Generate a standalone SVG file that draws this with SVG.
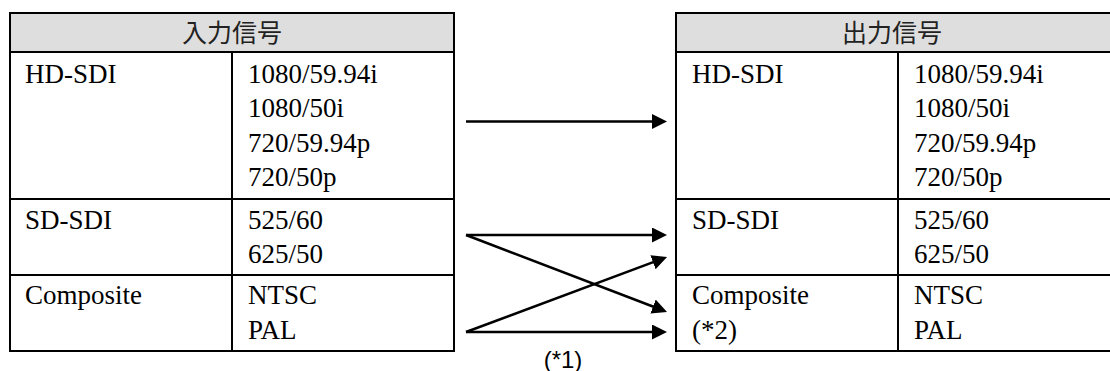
<svg xmlns="http://www.w3.org/2000/svg" width="1110" height="371" viewBox="0 0 1110 371">
<style>
.bg{fill:#ffffff}
.hdr{fill:#dedede;stroke:none}
.ln{stroke:#000;stroke-width:2;fill:none}
.t{font-family:"Liberation Serif","Times New Roman",serif;font-size:27px;fill:#000}
.h{font-family:"Noto Sans CJK JP","Noto Sans",sans-serif;font-size:25px;fill:#222;text-anchor:middle}
.n{font-family:"Liberation Sans",Arial,sans-serif;font-size:24px;fill:#000;text-anchor:middle}
.c{stroke:#000;stroke-width:2.5;fill:none;marker-end:url(#ah)}
</style>
<defs>
<marker id="ah" markerUnits="userSpaceOnUse" markerWidth="16" markerHeight="16" refX="11" refY="7.5" orient="auto">
<path d="M0,0 L15,7.5 L0,15 z" fill="#000"/>
</marker>
</defs>
<rect class="bg" x="0" y="0" width="1110" height="371"/>

<g id="input-table">
<g id="input-header">
<rect class="hdr" x="10" y="13" width="444" height="39"/>
<text class="h" x="232" y="41.5">入力信号</text>
</g>
<g id="input-hd">
<text class="t" x="25" y="82.5">HD-SDI</text>
<text class="t" x="248" y="82.5">1080/59.94i</text>
<text class="t" x="248" y="117">1080/50i</text>
<text class="t" x="248" y="151.5">720/59.94p</text>
<text class="t" x="248" y="186">720/50p</text>
</g>
<g id="input-sd">
<text class="t" x="25" y="228.5">SD-SDI</text>
<text class="t" x="248" y="228.5">525/60</text>
<text class="t" x="248" y="263">625/50</text>
</g>
<g id="input-composite">
<text class="t" x="25" y="304">Composite</text>
<text class="t" x="248" y="304">NTSC</text>
<text class="t" x="248" y="338.5">PAL</text>
</g>
<path class="ln" d="M10,13 H454 V351 H10 Z M10,52 H454 M10,199 H454 M10,275 H454 M232,52 V351"/>
</g>

<g id="output-table">
<g id="output-header">
<rect class="hdr" x="676" y="13" width="440" height="39"/>
<text class="h" x="892" y="41.5">出力信号</text>
</g>
<g id="output-hd">
<text class="t" x="692" y="82.5">HD-SDI</text>
<text class="t" x="914" y="82.5">1080/59.94i</text>
<text class="t" x="914" y="117">1080/50i</text>
<text class="t" x="914" y="151.5">720/59.94p</text>
<text class="t" x="914" y="186">720/50p</text>
</g>
<g id="output-sd">
<text class="t" x="692" y="228.5">SD-SDI</text>
<text class="t" x="914" y="228.5">525/60</text>
<text class="t" x="914" y="263">625/50</text>
</g>
<g id="output-composite">
<text class="t" x="692" y="304">Composite</text>
<text class="t" x="692" y="338.5">(*2)</text>
<text class="t" x="914" y="304">NTSC</text>
<text class="t" x="914" y="338.5">PAL</text>
</g>
<path class="ln" d="M1116,13 H676 V351 H1116 M676,52 H1116 M676,199 H1116 M676,275 H1116 M898,52 V351"/>
</g>

<g id="connectors">
<line class="c" x1="466" y1="121.5" x2="663" y2="121.5"/>
<line class="c" x1="466" y1="235" x2="663" y2="235"/>
<line class="c" x1="466" y1="235" x2="663.3" y2="310.5"/>
<line class="c" x1="466" y1="332" x2="663.3" y2="258.4"/>
<line class="c" x1="466" y1="332" x2="663" y2="332"/>
<text class="n" x="563" y="368">(*1)</text>
</g>
</svg>
